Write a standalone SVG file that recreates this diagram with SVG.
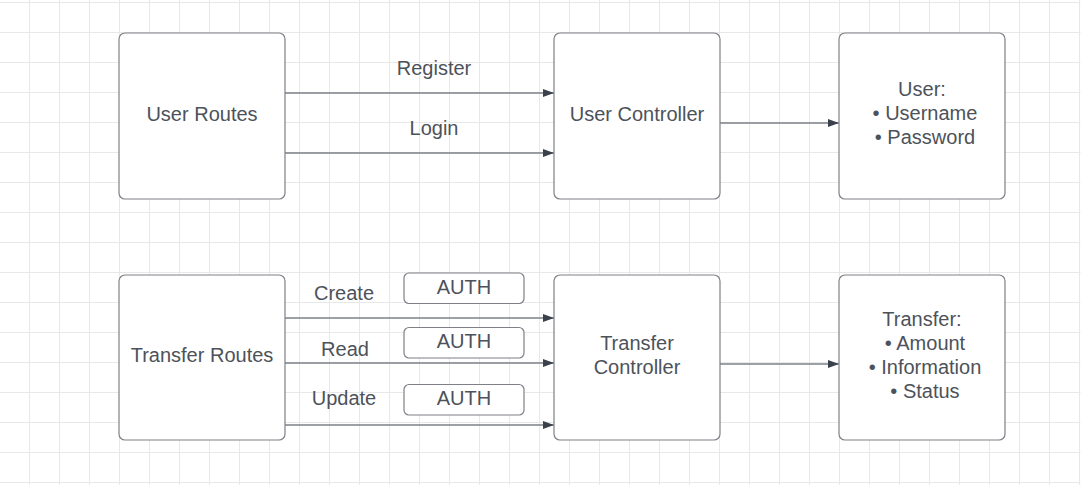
<svg xmlns="http://www.w3.org/2000/svg" width="1083" height="485" viewBox="0 0 1083 485">
<defs>
<pattern id="grid" x="0" y="0" width="30" height="30" patternUnits="userSpaceOnUse">
<path d="M29.5 0V30M0 2.5H30" fill="none" stroke="#e8e8e8" stroke-width="1"/>
</pattern>
<marker id="arr" markerWidth="12" markerHeight="9" refX="11" refY="4.5" orient="auto" markerUnits="userSpaceOnUse">
<path d="M0 0.5L11 4.5L0 8.5Z" fill="#3a414a"/>
</marker>
<style>
.box{fill:#ffffff;stroke:#7d8086;stroke-width:1.2}
.t{font-family:"Liberation Sans",Arial,sans-serif;font-size:20px;fill:#4d525a;text-anchor:middle}
.c{stroke:#7d8086;stroke-width:1.3;fill:none;marker-end:url(#arr)}
</style>
</defs>
<rect width="1083" height="485" fill="#ffffff"/>
<rect x="0" y="0" width="1080.5" height="485" fill="url(#grid)"/>
<g id="connectors">
<path class="c" d="M285 93H554"/>
<path class="c" d="M285 153H554"/>
<path class="c" d="M720 123H839"/>
<path class="c" d="M285 318H554"/>
<path class="c" d="M285 363H554"/>
<path class="c" d="M285 425H554"/>
<path class="c" d="M720 364H839"/>
<text class="t" x="434" y="75">Register</text>
<text class="t" x="434" y="135">Login</text>
<text class="t" x="344" y="299.5">Create</text>
<text class="t" x="345" y="355.5">Read</text>
<text class="t" x="344" y="404.5">Update</text>
</g>
<g id="auth1"><rect class="box" x="404" y="273" width="120" height="30.5" rx="5"/><text class="t" x="464" y="293.5">AUTH</text></g>
<g id="auth2"><rect class="box" x="404" y="327.5" width="120" height="30.5" rx="5"/><text class="t" x="464" y="348">AUTH</text></g>
<g id="auth3"><rect class="box" x="404" y="384.5" width="120" height="30.5" rx="5"/><text class="t" x="464" y="404.5">AUTH</text></g>
<g id="userRoutes"><rect class="box" x="119" y="33" width="166" height="166" rx="6"/><text class="t" x="202" y="120.5">User Routes</text></g>
<g id="userController"><rect class="box" x="554" y="33" width="166" height="166" rx="6"/><text class="t" x="637" y="120.5">User Controller</text></g>
<g id="userModel"><rect class="box" x="839" y="33" width="166" height="166" rx="6"/>
<text class="t" x="922" y="96">User:</text>
<text class="t" x="925" y="120">• Username</text>
<text class="t" x="925" y="144">• Password</text></g>
<g id="transferRoutes"><rect class="box" x="119" y="275" width="166" height="165" rx="6"/><text class="t" x="202" y="362">Transfer Routes</text></g>
<g id="transferController"><rect class="box" x="554" y="275" width="166" height="165" rx="6"/>
<text class="t" x="637" y="349.5">Transfer</text>
<text class="t" x="637" y="373.5">Controller</text></g>
<g id="transferModel"><rect class="box" x="839" y="275" width="166" height="165" rx="6"/>
<text class="t" x="922" y="325.5">Transfer:</text>
<text class="t" x="925" y="350">• Amount</text>
<text class="t" x="925" y="374">• Information</text>
<text class="t" x="925" y="398">• Status</text></g>
</svg>
